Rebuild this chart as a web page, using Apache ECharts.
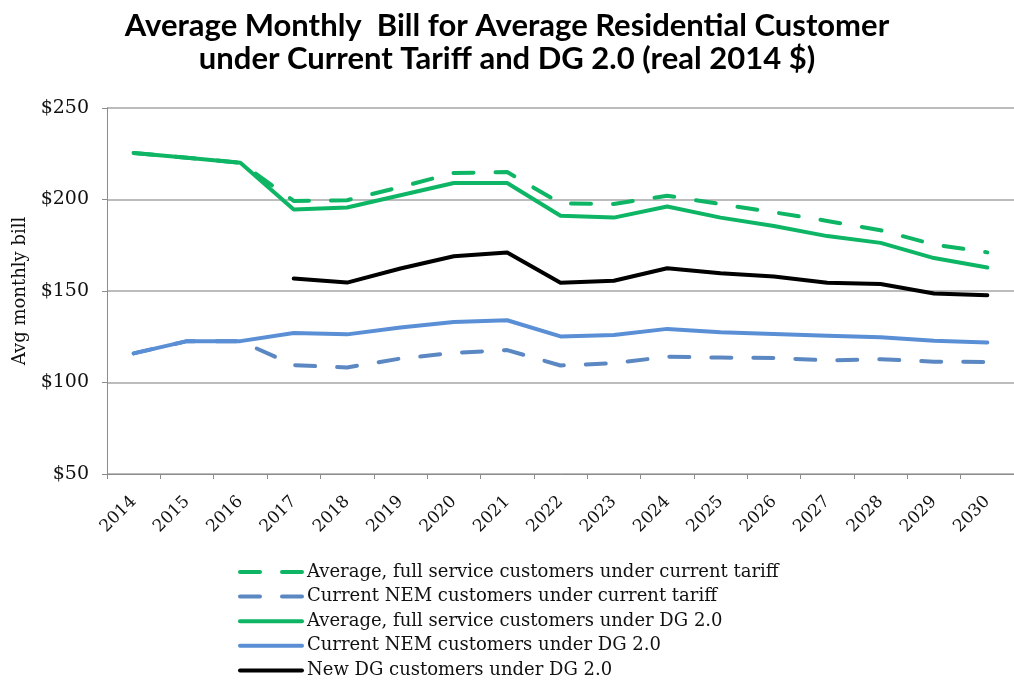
<!DOCTYPE html>
<html><head><meta charset="utf-8">
<script src="https://cdn.jsdelivr.net/npm/echarts@6/dist/echarts.min.js"></script>
<style>html,body{margin:0;padding:0;background:#fff}#c{width:1014px;height:683px}</style>
</head><body><div id="c"></div>
<script>
const years = ['2014','2015','2016','2017','2018','2019','2020','2021','2022','2023','2024','2025','2026','2027','2028','2029','2030'];
const avgCurrent = [225.4,222.8,220.1,199.2,199.6,206.8,214.5,215.0,197.9,197.5,202.1,197.5,193.0,188.3,183.2,175.4,171.1];
const nemCurrent = [115.9,122.6,122.6,109.5,108.2,113.1,116.2,117.7,109.3,110.5,114.1,113.6,113.4,112.1,112.7,111.4,111.2];
const avgDG = [225.4,222.8,220.1,194.5,195.6,202.3,209.0,209.0,191.1,190.1,196.2,190.1,185.5,180.0,176.3,168.0,162.8];
const nemDG = [115.9,122.6,122.6,127.1,126.3,130.1,133.1,134.0,125.2,125.9,129.3,127.4,126.5,125.6,124.7,122.8,121.9];
const newDG = [null,null,null,156.8,154.6,162.3,169.0,171.0,154.5,155.6,162.4,159.7,157.9,154.5,153.8,148.6,147.7];
const yTicks = [50,100,150,200,250];
const names = ['Average, full service customers under current tariff','Current NEM customers under current tariff','Average, full service customers under DG 2.0','Current NEM customers under DG 2.0','New DG customers under DG 2.0'];

const serif = "'DejaVu Serif','Liberation Serif',serif";
function mk(name, data, color, dashed){
  return {name, type:'line', data, symbol:'none', smooth:false, connectNulls:false,
    lineStyle:{color, width:4, type: dashed ? [20,22] : 'solid', cap:'round', join:'round'},
    itemStyle:{color}};
}
const chart = echarts.init(document.getElementById('c'));
chart.setOption({
  animation:false,
  title:{text:'Average Monthly  Bill for Average Residential Customer\nunder Current Tariff and DG 2.0 (real 2014 $)',
    left:'center', top:4,
    textStyle:{fontFamily:'Lato', fontWeight:'bold', fontSize:31, color:'#000', lineHeight:33}},
  grid:{left:107, right:-4, top:108, bottom:209, containLabel:false},
  legend:{orient:'vertical', left:238, top:562, padding:0, height:130, itemWidth:62, itemHeight:12, itemGap:4.6,
    itemStyle:{opacity:0},
    lineStyle:{width:4, cap:'round'},
    textStyle:{fontFamily:serif, fontSize:18, color:'#111', lineHeight:20},
    data:names},
  xAxis:{type:'category', data:years, boundaryGap:true,
    axisLine:{lineStyle:{color:'#8c8c8c', width:1}},
    axisTick:{show:true, length:5, lineStyle:{color:'#8c8c8c'}},
    axisLabel:{rotate:45, fontFamily:serif, fontSize:17, color:'#111', margin:25, interval:0}},
  yAxis:{type:'value', min:50, max:250, interval:50,
    name:'Avg monthly bill', nameLocation:'middle', nameGap:76, nameRotate:90,
    nameTextStyle:{fontFamily:serif, fontSize:18, color:'#111'},
    axisLine:{show:true, lineStyle:{color:'#8c8c8c'}},
    axisTick:{show:true, length:5, lineStyle:{color:'#8c8c8c'}},
    splitLine:{lineStyle:{color:'#a6a6a6', width:1.5}},
    axisLabel:{fontFamily:serif, fontSize:19, color:'#111', margin:18, formatter:v=>'$'+v}},
  series:[
    mk(names[0], avgCurrent, '#0DB565', true),
    mk(names[1], nemCurrent, '#5B88C2', true),
    mk(names[2], avgDG, '#0DB565', false),
    mk(names[3], nemDG, '#5A8FD6', false),
    mk(names[4], newDG, '#000000', false)
  ]
});
</script></body></html>
